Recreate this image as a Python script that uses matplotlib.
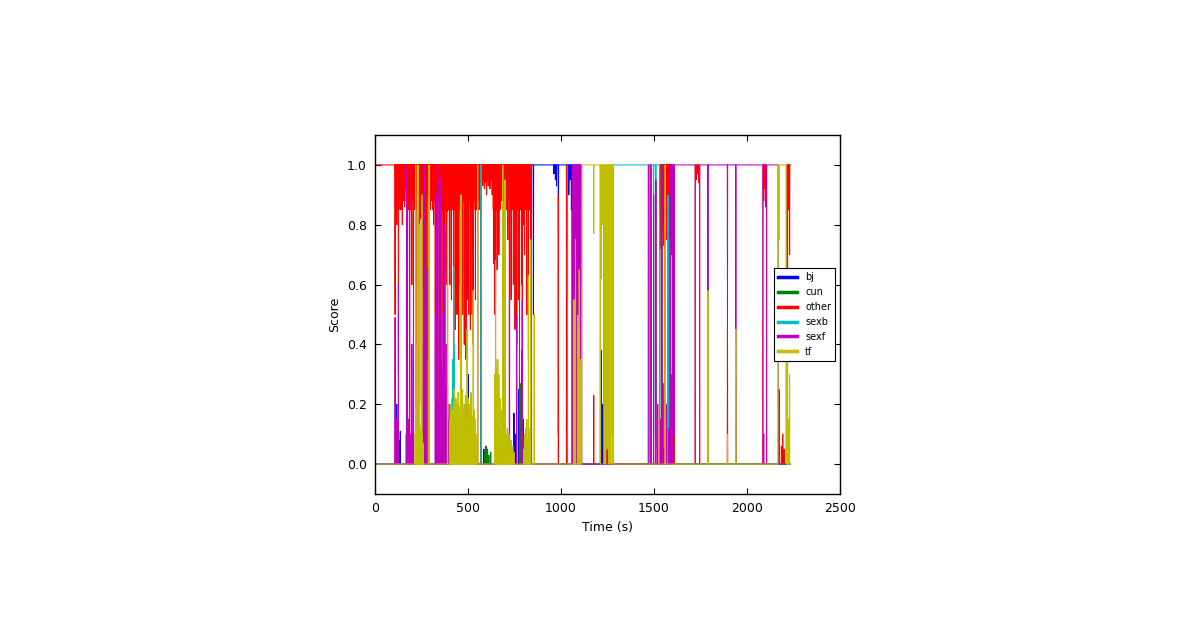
import numpy as np
import matplotlib.pyplot as plt

labels = ["bj", "cun", "other", "sexb", "sexf", "tf"]
colors = ["#0000ff", "#008000", "#ff0000", "#00bfbf", "#bf00bf", "#bfbf00"]
duration = 2234  # seconds, one score per second

# stretches where one class sits at 1.0 (start second, class)
seg_start = [0, 842, 1060, 1112, 1282, 1470, 1486, 1532, 1600, 1722, 1746, 2086, 2106, 2168, 2212]
seg_label = ["other", "bj", "sexf", "tf", "sexb", "sexf", "sexb", "other", "sexf",
             "other", "sexf", "other", "sexf", "tf", "other"]

# dense noisy stretches, one value every 3 s: (start second, scores)
other_bursts = [
    (108, [0.5, 0.87, 0.93, 0.8, 0.9, 0.85, 0.3, 0.88, 0.95, 0.85,
           0.9, 0.96, 0.85, 0.8, 0.94, 0.88, 0.97, 0.86, 0.92, 0.95,
           0.88, 0.0, 0.0, 0.9, 0.85, 0.95, 0.1, 0.9, 0.85, 0.92,
           0.6, 0.9, 0.88, 0.45, 0.95, 0.85, 0.9, 0.0, 0.9, 0.85,
           0.4, 0.0, 0.9, 0.85, 0.2, 0.9, 0.82, 0.88, 0.1, 0.88,
           0.6, 0.92, 0.0, 0.9, 0.0, 0.88, 0.95, 0.35, 0.9, 0.95,
           0.9, 0.0, 0.93, 0.85, 0.97, 0.88, 0.97, 0.85, 0.93, 0.8,
           0.98, 0.88, 0.5, 0.94, 0.85, 0.1, 0.95, 0.88, 0.9, 0.0,
           0.92, 0.85, 0.05, 0.9, 0.85, 0.88, 0.5, 0.93, 0.88, 0.2,
           0.9, 0.85, 0.6, 0.92, 0.1, 0.88, 0.85, 0.95, 0.6, 0.85,
           0.9, 0.55, 0.85, 0.88, 0.9, 0.3, 0.85, 0.9, 0.45, 0.88,
           0.92, 0.5, 0.88, 0.85, 0.35, 0.9, 0.85, 0.6, 0.05, 0.88,
           0.85, 0.5, 0.9, 0.88, 0.4, 0.88, 0.85, 0.35, 0.9, 0.55,
           0.95, 0.85, 0.5, 0.9, 0.88, 0.45, 0.85, 0.92, 0.5, 0.9,
           0.4, 0.85, 0.9, 0.88, 0.55, 0.92, 0.85, 0.9, 0.0, 0.88,
           0.95, 0.85, 0.97, 0.92, 0.0, 0.95, 0.97, 0.93, 0.99, 0.95,
           0.92, 0.98, 0.94, 0.97, 0.9, 0.99, 0.95, 0.93, 0.98, 0.96,
           0.92, 0.99, 0.95, 0.97, 0.9, 0.96, 0.85, 0.67, 0.9, 0.5,
           0.3, 0.85, 0.92, 0.65, 0.9, 0.88, 0.7, 0.95, 0.85, 0.92,
           0.88, 0.95, 0.9, 0.0, 0.93, 0.88, 0.97, 0.05, 0.92, 0.85,
           0.95, 0.88, 0.75, 0.92, 0.88, 0.05, 0.85, 0.92, 0.55, 0.88,
           0.85, 0.95, 0.6, 0.88, 0.85, 0.45, 0.92, 0.88, 0.4, 0.85,
           0.9, 0.55, 0.88, 0.45, 0.92, 0.85, 0.88, 0.6, 0.35, 0.88,
           0.8, 0.92, 0.7, 0.88, 0.85, 0.95, 0.5, 0.9, 0.85, 0.35,
           0.9, 0.85, 0.88, 0.2, 0.8]),
    (1533, [0.85, 0.72, 0.9, 0.0, 0.78, 0.95, 0.8, 0.73, 0.9, 0.0,
            0.85, 0.97, 0.75, 0.88, 0.0, 0.8, 0.92, 0.76, 0.0, 0.9,
            0.85, 0.7, 0.0]),
]
tf_bursts = [
    (216, [0.1, 0.05, 0.12, 0.08, 0.14, 0.03, 0.1, 0.12, 0.06, 0.11,
           0.09, 0.13, 0.05, 0.1, 0.07]),
    (402, [0.15, 0.2, 0.08, 0.22, 0.12, 0.18, 0.05, 0.2, 0.25, 0.1,
           0.18, 0.22, 0.08, 0.2, 0.15, 0.24, 0.1, 0.19, 0.06, 0.22,
           0.16, 0.2, 0.12, 0.25, 0.08, 0.18, 0.2, 0.1, 0.23, 0.15,
           0.05, 0.2, 0.12, 0.22, 0.18, 0.08, 0.2, 0.14, 0.24, 0.1,
           0.16, 0.06, 0.2, 0.12, 0.18, 0.05, 0.15, 0.1, 0.08]),
    (645, [0.3, 0.35, 0.2, 0.32, 0.15, 0.35, 0.25, 0.3, 0.1, 0.22,
           0.12, 0.18, 0.08, 0.15, 0.05, 0.12, 0.1, 0.06, 0.12, 0.04]),
    (705, [0.1, 0.05, 0.12, 0.03, 0.08, 0.1, 0.04, 0.06, 0.02, 0.08,
           0.05, 0.03, 0.06, 0.02, 0.04]),
    (801, [0.05, 0.1, 0.04, 0.12, 0.06, 0.15, 0.08, 0.05, 0.1, 0.04,
           0.07, 0.12]),
]
sexf_bursts = [
    (108, [0.49, 0.1, 0.05, 0.15, 0.08, 0.12, 0.6]),
    (168, [0.1, 1.0, 1.0, 0.05, 0.15, 0.03, 0.9, 0.1, 0.05, 0.05,
           0.4, 0.05, 0.1, 0.55]),
    (336, [0.05, 0.2, 0.08, 0.25, 0.1, 0.3, 0.15, 0.34, 0.05, 0.3,
           0.12, 0.28, 0.1, 0.34, 0.2, 0.25, 0.08, 0.3, 0.1, 0.15,
           0.05, 0.2, 0.1]),
]

# single-second excursions: (second, score)
bj_spikes = [(117, 0.2), (124, 0.1), (130, 0.08), (136, 0.11), (441, 0.2), (490, 0.2),
             (502, 0.3), (513, 0.15), (585, 0.05), (594, 0.06), (600, 0.04), (747, 0.17),
             (753, 0.1), (774, 0.25), (779, 0.1), (798, 0.15), (852, 0.5), (962, 0.97),
             (970, 0.95), (976, 0.93), (986, 0.1), (1030, 0.0), (1031, 0.0), (1042, 0.9),
             (1050, 0.95), (1056, 0.85), (1215, 0.38), (1225, 0.2)]
cun_spikes = [(590, 0.04), (597, 0.06), (605, 0.05), (612, 0.03), (622, 0.04),
              (785, 0.27), (789, 0.38), (792, 0.2), (801, 0.1), (810, 0.08)]
other_spikes = [(986, 0.9), (1030, 1.0), (1031, 1.0), (1066, 1.0), (1074, 0.3),
                (1084, 1.0), (1094, 0.2), (1102, 1.0), (1176, 0.23), (1212, 1.0),
                (1232, 0.95), (1236, 0.12), (1240, 0.95), (1244, 0.16), (1252, 0.08),
                (1256, 0.95), (1520, 0.2), (1603, 1.0), (1608, 0.9), (1726, 0.95),
                (1733, 0.97), (1740, 0.94), (1790, 0.42), (1895, 0.45), (1940, 0.3),
                (2090, 0.88), (2096, 0.92), (2100, 0.86), (2172, 0.25), (2185, 0.06),
                (2192, 0.1), (2200, 0.05), (2218, 0.4), (2224, 0.85), (2229, 0.7)]
sexb_spikes = [(418, 0.35), (423, 0.66), (426, 0.4), (570, 1.0), (571, 1.0), (1264, 1.0),
               (1276, 1.0), (1480, 1.0), (1498, 0.1), (1510, 0.05), (1575, 0.9), (1940, 0.25)]
sexf_spikes = [(258, 0.4), (264, 1.0), (270, 1.0), (279, 0.65), (324, 0.5), (333, 0.9),
               (345, 1.0), (354, 0.95), (366, 0.5), (375, 0.8), (384, 0.4), (723, 0.95),
               (762, 0.5), (777, 0.45), (792, 0.55),
               (1066, 0.0), (1070, 0.4), (1074, 0.65), (1078, 0.2), (1084, 0.0),
               (1090, 0.5), (1094, 0.75), (1098, 0.3), (1102, 0.0), (1107, 0.6),
               (1480, 0.0), (1498, 0.9), (1510, 0.95), (1536, 0.15), (1542, 1.0),
               (1548, 0.27), (1554, 0.05), (1566, 0.2), (1581, 0.12), (1587, 1.0),
               (1593, 0.3), (1599, 1.0), (1603, 0.0), (1608, 0.1), (1790, 0.0),
               (1895, 0.45), (1940, 0.0), (2090, 0.1)]
tf_spikes = [(219, 1.0), (231, 1.0), (240, 0.8), (252, 0.9), (291, 1.0), (390, 0.84),
             (462, 0.9), (495, 0.45), (528, 0.58), (552, 1.0), (648, 0.68), (657, 0.35),
             (687, 1.0), (699, 0.95), (825, 0.63), (837, 0.75), (856, 0.5), (1070, 0.55),
             (1078, 0.75), (1090, 0.45), (1098, 0.65), (1107, 0.35), (1176, 0.77),
             (1212, 0.0), (1215, 0.62), (1225, 0.8), (1232, 0.0), (1240, 0.0),
             (1248, 0.05), (1256, 0.0), (1264, 0.0), (1270, 0.1), (1276, 0.0),
             (1560, 1.0), (1790, 0.58), (1895, 0.1), (1940, 0.45), (2172, 0.75),
             (2218, 0.6), (2224, 0.15), (2229, 0.3)]


def build_scores():
    scores = {name: np.zeros(duration) for name in labels}
    bounds = seg_start + [duration]
    for i, name in enumerate(seg_label):
        scores[name][bounds[i]:bounds[i + 1]] = 1.0
    bursts = {"other": other_bursts, "tf": tf_bursts, "sexf": sexf_bursts}
    for name, runs in bursts.items():
        for t0, vals in runs:
            scores[name][t0:t0 + 3 * len(vals):3] = vals
    spikes = {"bj": bj_spikes, "cun": cun_spikes, "other": other_spikes,
              "sexb": sexb_spikes, "sexf": sexf_spikes, "tf": tf_spikes}
    for name, pts in spikes.items():
        for ts, v in pts:
            scores[name][ts] = v
    return scores


def main():
    t = np.arange(duration)
    scores = build_scores()

    fig = plt.figure(figsize=(12, 6.3), dpi=100)
    ax = fig.add_axes([375 / 1200, 136 / 630, 465 / 1200, 359 / 630])

    for name, col in zip(labels, colors):
        ax.plot(t, scores[name], color=col, linewidth=0.75, label=name)

    ax.set_xlim(0, 2500)
    ax.set_ylim(-0.1, 1.1)
    ax.set_xticks([0, 500, 1000, 1500, 2000, 2500])
    ax.set_yticks([0.0, 0.2, 0.4, 0.6, 0.8, 1.0])
    ax.set_yticklabels(["0.0", "0.2", "0.4", "0.6", "0.8", "1.0"])
    ax.tick_params(direction="in", top=True, right=True, length=4, width=0.8,
                   labelsize=9, pad=6)
    for sp in ax.spines.values():
        sp.set_linewidth(1.0)
    ax.set_xlabel("Time (s)", fontsize=9)
    ax.set_ylabel("Score", fontsize=9)

    leg = ax.legend(loc="center right", fontsize=7, fancybox=False, framealpha=1,
                    edgecolor="black", borderpad=0.4, labelspacing=0.5,
                    handlelength=2, handletextpad=0.8, borderaxespad=0.5)
    leg.get_frame().set_linewidth(0.8)
    for line in leg.get_lines():
        line.set_linewidth(2.5)

    fig.savefig("out.png", dpi=100, facecolor="white")


if __name__ == "__main__":
    main()
